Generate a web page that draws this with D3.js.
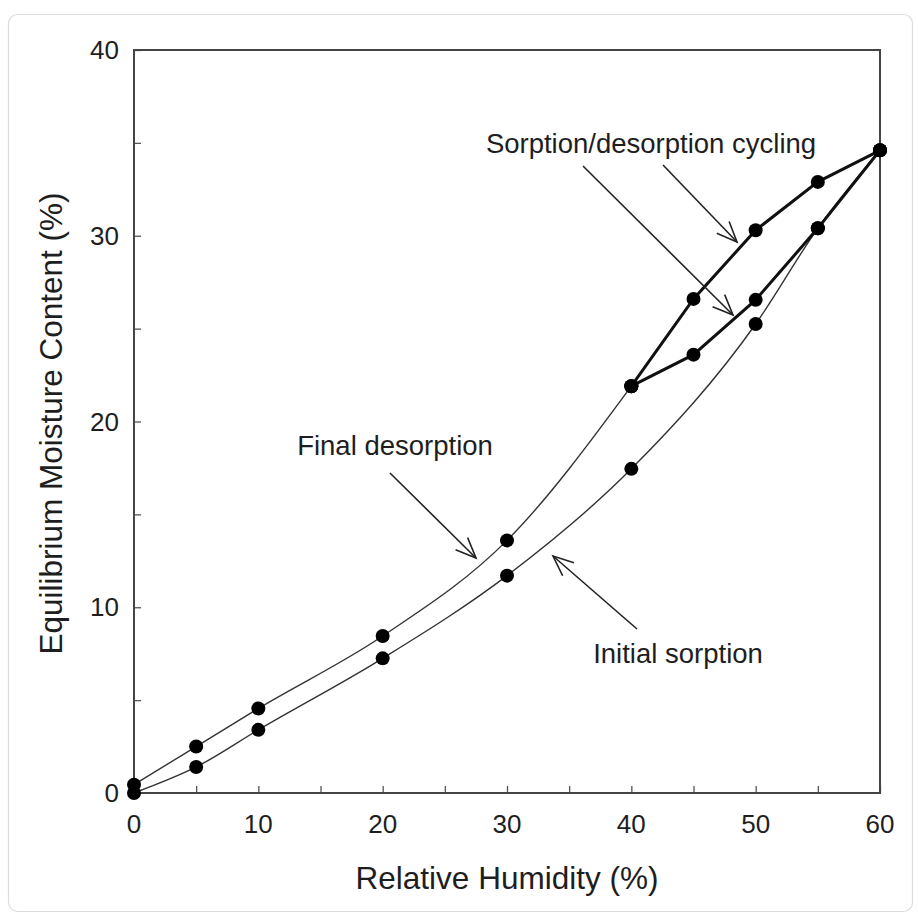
<!DOCTYPE html>
<html><head><meta charset="utf-8">
<script src="https://cdn.jsdelivr.net/npm/d3@7"></script>
<style>body{margin:0;background:#fff}svg{display:block}text{font-family:"Liberation Sans",Arial,sans-serif;fill:#1e1e1e}</style>
</head><body>
<script>
// Data
const initialSorptionRH = [0, 5, 10, 20, 30, 40, 50, 55, 60];
const initialSorptionEMC = [0, 1.4, 3.4, 7.25, 11.7, 17.45, 25.25, 30.4, 34.6];
const finalDesorptionRH = [40, 30, 20, 10, 5, 0];
const finalDesorptionEMC = [21.9, 13.6, 8.45, 4.55, 2.5, 0.45];
const cycleSorptionRH = [40, 45, 50, 55, 60];
const cycleSorptionEMC = [21.9, 26.6, 30.3, 32.9, 34.6];
const cycleDesorptionRH = [60, 55, 50, 45, 40];
const cycleDesorptionEMC = [34.6, 30.4, 26.55, 23.6, 21.9];
const xTicks = [0, 10, 20, 30, 40, 50, 60];
const yTicks = [0, 10, 20, 30, 40];
const minorStep = 5;
const annotations = [
  {text: "Sorption/desorption cycling", tx: 651, ty: 153, arrows: [[663,165,737,242],[583,166,733,315]]},
  {text: "Final desorption", tx: 395, ty: 455, arrows: [[390,473,476,558]]},
  {text: "Initial sorption", tx: 678, ty: 663, arrows: [[637,629,553,556]]}
];

const W = 918, H = 915;
const m = {l: 134, r: 880, t: 50, b: 793};
const svg = d3.select("body").append("svg").attr("width", W).attr("height", H);
svg.append("rect").attr("x", 8.5).attr("y", 14.5).attr("width", 904).attr("height", 897)
  .attr("rx", 9).attr("fill", "#fff").attr("stroke", "#dcdcdc").attr("stroke-width", 1.2);

const x = d3.scaleLinear().domain([0, 60]).range([m.l, m.r]);
const y = d3.scaleLinear().domain([0, 40]).range([m.b, m.t]);

// axes with inward ticks
const allX = d3.range(0, 60 + 0.01, minorStep);
const allY = d3.range(0, 40 + 0.01, minorStep);
const xAxis = svg.append("g").attr("transform", `translate(0,${m.b})`)
  .call(d3.axisBottom(x).tickValues(allX).tickSize(-7).tickFormat(""));
const yAxis = svg.append("g").attr("transform", `translate(${m.l},0)`)
  .call(d3.axisLeft(y).tickValues(allY).tickSize(-7).tickFormat(""));
[xAxis, yAxis].forEach(g => { g.select(".domain").remove(); g.selectAll("line").attr("stroke", "#555").attr("stroke-width", 1.3); });

svg.append("rect").attr("x", m.l).attr("y", m.t).attr("width", m.r - m.l).attr("height", m.b - m.t)
  .attr("fill", "none").attr("stroke", "#444").attr("stroke-width", 2);

svg.append("g").selectAll("text").data(xTicks).join("text")
  .attr("x", d => x(d)).attr("y", m.b + 40).attr("text-anchor", "middle")
  .attr("font-size", 26).text(d => d);
svg.append("g").selectAll("text").data(yTicks).join("text")
  .attr("x", m.l - 15).attr("y", d => y(d) + 9).attr("text-anchor", "end")
  .attr("font-size", 26).text(d => d);

svg.append("text").attr("x", 507).attr("y", 889).attr("text-anchor", "middle")
  .attr("font-size", 31.5).text("Relative Humidity (%)");
svg.append("text").attr("transform", `translate(62,${(m.t + m.b) / 2 + 2}) rotate(-90)`)
  .attr("text-anchor", "middle").attr("font-size", 31.5).text("Equilibrium Moisture Content (%)");

const zip = (a, b) => a.map((v, i) => [v, b[i]]);
const smooth = d3.line().x(d => x(d[0])).y(d => y(d[1])).curve(d3.curveMonotoneX);
const straight = d3.line().x(d => x(d[0])).y(d => y(d[1]));

const initS = zip(initialSorptionRH, initialSorptionEMC);
const finD = zip(finalDesorptionRH, finalDesorptionEMC);
const cycS = zip(cycleSorptionRH, cycleSorptionEMC);
const cycD = zip(cycleDesorptionRH, cycleDesorptionEMC);

svg.append("path").attr("d", smooth(initS)).attr("fill", "none").attr("stroke", "#333").attr("stroke-width", 1.4);
svg.append("path").attr("d", smooth(finD)).attr("fill", "none").attr("stroke", "#333").attr("stroke-width", 1.4);
svg.append("path").attr("d", straight(cycS)).attr("fill", "none").attr("stroke", "#111").attr("stroke-width", 3);
svg.append("path").attr("d", straight(cycD)).attr("fill", "none").attr("stroke", "#111").attr("stroke-width", 3);

const pts = [...initS, ...finD, ...cycS, ...cycD];
svg.append("g").selectAll("circle").data(pts).join("circle")
  .attr("cx", d => x(d[0])).attr("cy", d => y(d[1])).attr("r", 7).attr("fill", "#000");

// annotations
annotations.forEach(a => {
  svg.append("text").attr("x", a.tx).attr("y", a.ty).attr("text-anchor", "middle")
    .attr("font-size", 27.5).text(a.text);
  a.arrows.forEach(([x1, y1, x2, y2]) => {
    svg.append("line").attr("x1", x1).attr("y1", y1).attr("x2", x2).attr("y2", y2)
      .attr("stroke", "#222").attr("stroke-width", 1.6);
    const ang = Math.atan2(y2 - y1, x2 - x1), L = 22, h = 0.4;
    const p = d3.path();
    p.moveTo(x2 - L * Math.cos(ang - h), y2 - L * Math.sin(ang - h));
    p.lineTo(x2, y2);
    p.lineTo(x2 - L * Math.cos(ang + h), y2 - L * Math.sin(ang + h));
    svg.append("path").attr("d", p.toString()).attr("fill", "none").attr("stroke", "#222").attr("stroke-width", 1.6);
  });
});
</script>
</body></html>
